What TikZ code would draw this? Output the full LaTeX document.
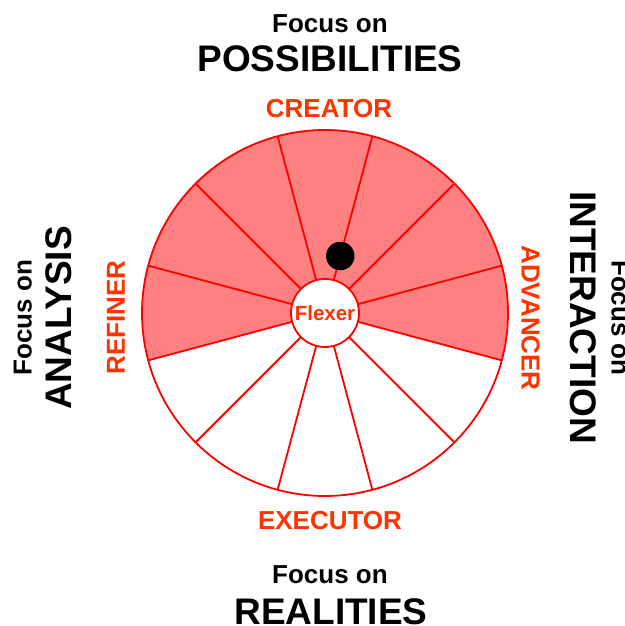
\documentclass[tikz,border=0pt]{standalone}
\usepackage{fontspec}
\setmainfont{Liberation Sans}
\definecolor{rolered}{HTML}{FF3300}
\definecolor{wedgepink}{HTML}{FF8080}
\tikzset{spoke/.style={draw=red, line width=1.8pt}}
\tikzset{focus/.style={anchor=base, inner sep=0pt, font=\bfseries\fontsize{26}{30}\selectfont}}
\tikzset{area/.style={anchor=base, inner sep=0pt, font=\bfseries\fontsize{37}{42}\selectfont}}
\tikzset{role/.style={anchor=base, inner sep=0pt, text=rolered, font=\bfseries\fontsize{26}{30}\selectfont}}
\tikzset{hub/.style={draw=red, line width=1.8pt, circle, fill=white, minimum size=68pt, inner sep=0pt, outer sep=0pt,
  text=rolered, font=\bfseries\fontsize{20.5}{24}\selectfont}}
\tikzset{rim/.style={draw=red, line width=1.8pt, circle, minimum size=366pt, inner sep=0pt, outer sep=0pt}}
\tikzset{pin/.style={circle, fill=black, minimum size=28.5pt, inner sep=0pt}}

\begin{document}
\begin{tikzpicture}[x=1pt,y=1pt]
\useasboundingbox (-325,-313) rectangle (299,313);

% wheel
\fill[wedgepink] (0,0) -- (-15:183) arc (-15:195:183) -- cycle;
\node[rim] (wheel) at (0,0) {};
\node[hub] (flexer) at (0,0) {Flexer};
\foreach \a in {15,45,...,345}
  \draw[spoke] (flexer.\a) -- (wheel.\a);
\node[pin] (pin) at (75:59) {};

% top and bottom
\node[focus] (ftop) at (5,280) {Focus on};
\node[area] (poss) at (5,241.5) {POSSIBILITIES};
\node[role] (creator) at (4,195) {CREATOR};
\node[role] (executor) at (5,-216) {EXECUTOR};
\node[focus] (fbot) at (5,-270) {Focus on};
\node[area] (real) at (6,-311) {REALITIES};

% left and right
\node[focus, rotate=90] (fleft) at (-293.3,-4.5) {Focus on};
\node[area, rotate=90] (anal) at (-253.3,-5) {ANALYSIS};
\node[role, rotate=90] (refiner) at (-200,-4.5) {REFINER};
\node[role, rotate=-90] (advancer) at (196.7,-5) {ADVANCER};
\node[area, rotate=-90] (inter) at (245,-4.5) {INTERACTION};
\node[focus, rotate=-90] (fright) at (286.7,-5) {Focus on};
\end{tikzpicture}
\end{document}
